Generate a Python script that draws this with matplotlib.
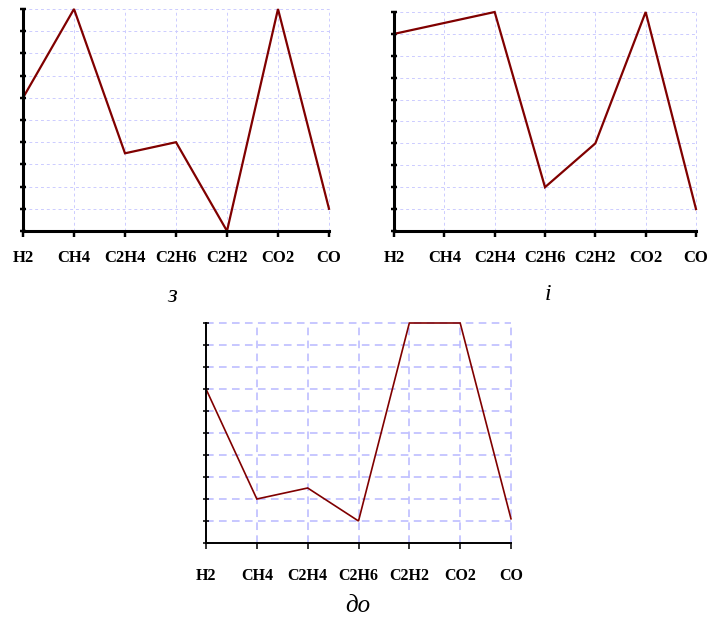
import matplotlib
matplotlib.use("Agg")
import matplotlib.pyplot as plt

categories = ["H2", "CH4", "C2H4", "C2H6", "C2H2", "CO2", "CO"]
labels_do = ["H2", "CH4", "C2H4", "C2H6", "C2H2", "CO2", "CO"]
values_z = [6.0, 10.0, 3.5, 4.0, 0.0, 10.0, 1.0]
values_i = [9.0, 9.5, 10.0, 2.0, 4.0, 10.0, 1.0]
values_do = [7.0, 2.0, 2.5, 1.0, 10.0, 10.0, 1.1]
captions = ["з", "і", "до"]

W, H = 711, 621
fig = plt.figure(figsize=(W / 100, H / 100), dpi=100)

def rect(l, r, t, b):
    return [l / W, 1 - b / H, (r - l) / W, (b - t) / H]

def panel(box, vals, labels, lw_line, lw_spine, gcol, gdash, glw, fsize, pad):
    ax = fig.add_axes(box)
    x = list(range(len(vals)))
    ax.plot(x, vals, color="#800000", lw=lw_line, clip_on=False, zorder=3,
            solid_joinstyle="miter")
    ax.set_xlim(0, len(vals) - 1)
    ax.set_ylim(0, 10)
    ax.set_xticks(x)
    ax.set_xticklabels(labels, fontfamily="Liberation Serif", fontweight="bold", fontsize=fsize)
    ax.set_yticks(range(0, 11))
    ax.set_yticklabels([])
    for s in ("top", "right"):
        ax.spines[s].set_visible(False)
    for s in ("left", "bottom"):
        ax.spines[s].set_linewidth(lw_spine)
        ax.spines[s].set_zorder(4)
    ax.tick_params(axis="x", direction="out", length=4, width=lw_spine * 0.8, pad=pad)
    ax.tick_params(axis="y", direction="inout", length=4, width=lw_spine * 0.8)
    ax.grid(True, color=gcol, linestyle=(0, gdash), linewidth=glw, zorder=1)
    for gl in ax.get_xgridlines() + ax.get_ygridlines():
        gl.set_clip_on(False)
    ax.set_axisbelow(True)
    return ax

panel(rect(23, 329, 9, 231), values_z, categories, 1.6, 2.2, "#ccccff", (3, 3), 0.7, 12, 10)
panel(rect(394, 696, 12, 231), values_i, categories, 1.6, 2.2, "#ccccff", (3, 3), 0.7, 12, 10)
panel(rect(206, 511, 323, 543), values_do, labels_do, 1.2, 1.4, "#b8b8ff", (5, 3.5), 1.1, 11.5, 14)

fig.text(172 / W, 1 - 296 / H, captions[0], ha="center", va="center",
         fontsize=18, fontstyle="italic", fontfamily="Liberation Serif")
fig.text(548 / W, 1 - 295 / H, captions[1], ha="center", va="center",
         fontsize=17, fontstyle="italic", fontfamily="Liberation Serif")
fig.text(358 / W, 1 - 606 / H, captions[2], ha="center", va="center",
         fontsize=18, fontstyle="italic", fontfamily="Liberation Serif")

fig.savefig("out.png", dpi=100)
